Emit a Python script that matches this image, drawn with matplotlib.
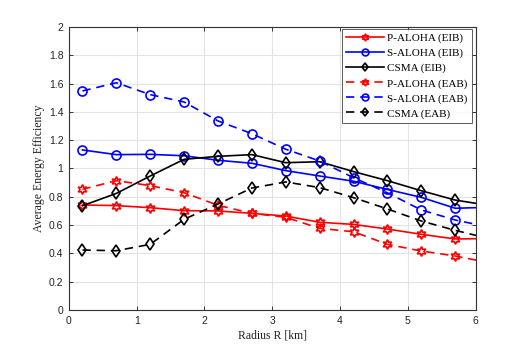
import matplotlib
matplotlib.use("Agg")
import matplotlib.pyplot as plt

radius = [0.2, 0.7, 1.2, 1.7, 2.2, 2.7, 3.2, 3.7, 4.2, 4.7, 5.2, 5.7, 6.2]

p_aloha_eib = [0.742, 0.738, 0.723, 0.702, 0.700, 0.683, 0.664, 0.620, 0.605, 0.572, 0.535, 0.502, 0.505]
s_aloha_eib = [1.131, 1.098, 1.100, 1.090, 1.058, 1.037, 0.985, 0.947, 0.910, 0.852, 0.796, 0.719, 0.726]
csma_eib = [0.737, 0.824, 0.947, 1.065, 1.086, 1.098, 1.041, 1.048, 0.978, 0.914, 0.843, 0.777, 0.739]
p_aloha_eab = [0.853, 0.914, 0.879, 0.829, 0.740, 0.683, 0.655, 0.577, 0.553, 0.464, 0.417, 0.382, 0.334]
s_aloha_eab = [1.548, 1.606, 1.522, 1.470, 1.336, 1.246, 1.136, 1.053, 0.935, 0.828, 0.707, 0.636, 0.586]
csma_eab = [0.424, 0.419, 0.464, 0.641, 0.749, 0.862, 0.905, 0.865, 0.794, 0.714, 0.629, 0.563, 0.505]

labels = ["P-ALOHA (EIB)", "S-ALOHA (EIB)", "CSMA (EIB)",
          "P-ALOHA (EAB)", "S-ALOHA (EAB)", "CSMA (EAB)"]
x_ticks = [0, 1, 2, 3, 4, 5, 6]
y_ticks = [0, 0.2, 0.4, 0.6, 0.8, 1, 1.2, 1.4, 1.6, 1.8, 2]
y_tick_labels = ["0", "0.2", "0.4", "0.6", "0.8", "1", "1.2", "1.4", "1.6", "1.8", "2"]

series = [p_aloha_eib, s_aloha_eib, csma_eib, p_aloha_eab, s_aloha_eab, csma_eab]
colors = ["#ff0000", "#0000ff", "#000000", "#ff0000", "#0000ff", "#000000"]
markers = [(6, 1, 0), "o", "d", (6, 1, 0), "o", "d"]
msizes = [7, 6.5, 6, 7, 6.5, 6]
dashed = [False, False, False, True, True, True]

fig = plt.figure(figsize=(5.26, 3.49), dpi=100)
ax = fig.add_axes([0.131, 0.1117, 0.773, 0.811])

for y, c, m, ms, d, lab in zip(series, colors, markers, msizes, dashed, labels):
    kw = dict(color=c, marker=m, markersize=ms, markerfacecolor="none",
              markeredgecolor=c, markeredgewidth=1.2, linewidth=1.2, label=lab,
              clip_on=True)
    if d:
        kw["linestyle"] = (0, (5, 3.5))
    else:
        kw["linestyle"] = "-"
    ax.plot(radius, y, **kw)

ax.set_xlim(0, 6)
ax.set_ylim(0, 2)
ax.set_xticks(x_ticks)
ax.set_yticks(y_ticks)
ax.set_yticklabels(y_tick_labels)
ax.grid(True, color="#e3e3e3", linewidth=0.8)
ax.set_axisbelow(True)
ax.tick_params(direction="in", length=3, width=0.7, color="#333333",
               top=True, right=True, labelsize=7.5, pad=4, labelcolor="#222222")
for lab in ax.get_xticklabels() + ax.get_yticklabels():
    lab.set_fontfamily("Liberation Sans")
for s in ax.spines.values():
    s.set_color("#333333")
    s.set_linewidth(0.8)

ax.set_xlabel("Radius R [km]", fontfamily="Liberation Serif", fontsize=8.5,
              color="#222222", labelpad=3)
ax.set_ylabel("Average Energy Efficiency", fontfamily="Liberation Serif", fontsize=8.5,
              color="#222222", labelpad=3)

leg = ax.legend(loc="upper right", bbox_to_anchor=(0.992, 0.993),
                prop={"family": "Liberation Serif", "size": 8},
                frameon=True, fancybox=False, edgecolor="#333333",
                handlelength=3.4, handletextpad=0.3, labelspacing=0.45,
                borderpad=0.4, borderaxespad=0.0, markerscale=0.75)
leg.get_frame().set_linewidth(0.7)

fig.savefig("out.png", dpi=100)
